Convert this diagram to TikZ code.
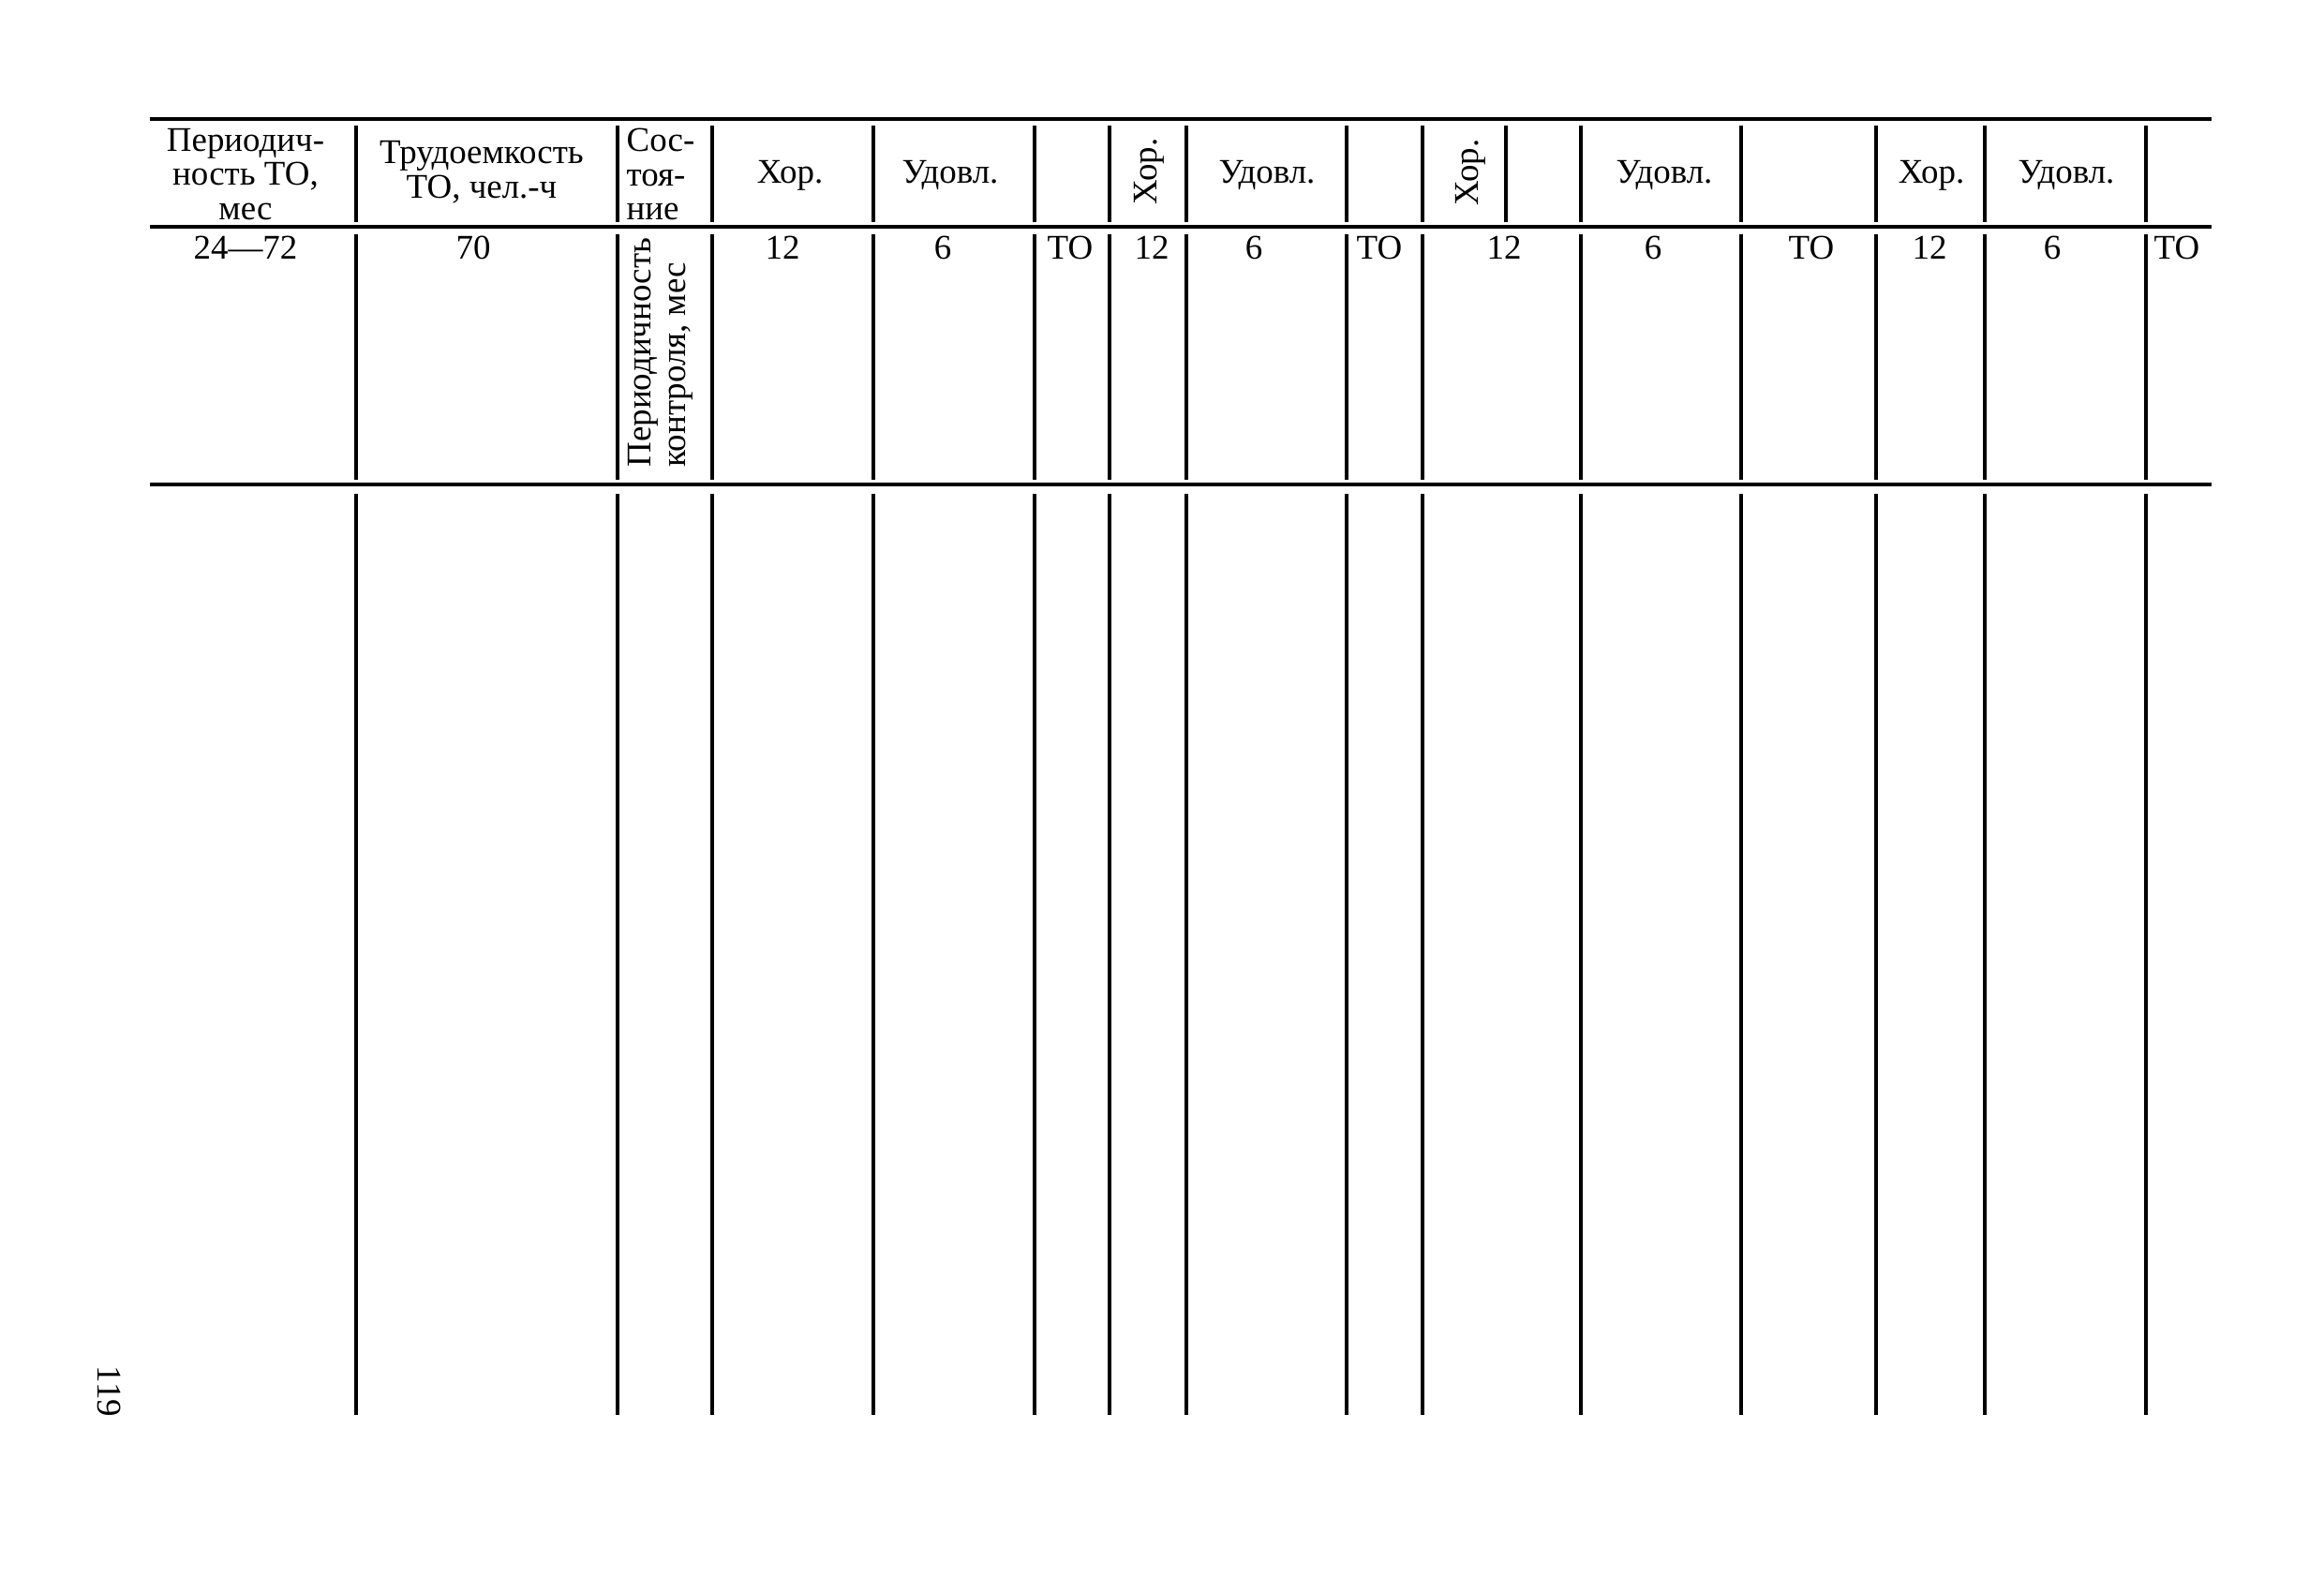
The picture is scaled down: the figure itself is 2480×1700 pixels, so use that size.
\documentclass[tikz,border=0pt]{standalone}
\usepackage{fontspec}
\setmainfont{Liberation Serif}
\begin{document}
\begin{tikzpicture}[x=0.01cm,y=-0.01cm,
  rule/.style={line width=1.1pt},
  vline/.style={line width=0.9pt},
  hdr/.style={font=\fontsize{10.5}{10.4}\selectfont, inner sep=0pt, align=center},
  cell/.style={font=\fontsize{10.5}{10.4}\selectfont, inner sep=0pt, anchor=base},
  vtxt/.style={hdr, rotate=90}]
\useasboundingbox (0,0) rectangle (2480,1700);
% horizontal rules
\draw[rule] (160,127) -- (2360,127);
\draw[rule] (160,242) -- (2360,242);
\draw[rule] (160,517) -- (2360,517);
% header verticals
\foreach \x in {380,659,760,932,1104,1184,1266,1437,1518,1607,1687,1858,2002,2118,2290}
  \draw[vline] (\x,134) -- (\x,237);
% row and body verticals
\foreach \x in {380,659,760,932,1104,1184,1266,1437,1518,1687,1858,2002,2118,2290}{
  \draw[vline] (\x,250) -- (\x,512);
  \draw[vline] (\x,527) -- (\x,1510);
}
% header texts
\node[hdr] (h0) at (262,186) {Периодич-\\ность ТО,\\мес};
\node[hdr] (h1) at (514,184) {Трудоемкость\\ТО, чел.-ч};
\node[hdr, align=left, anchor=west] (h2) at (668,186) {Сос-\\тоя-\\ние};
\node[cell] (h3) at (843,196) {Хор.};
\node[cell] (h4) at (1014,196) {Удовл.};
\node[vtxt] (h6) at (1226,183) {Хор.};
\node[cell] (h7) at (1352,196) {Удовл.};
\node[vtxt] (h9) at (1569,184) {Хор.};
\node[cell] (h10) at (1776,196) {Удовл.};
\node[cell] (h12) at (2061,196) {Хор.};
\node[cell] (h13) at (2205,196) {Удовл.};
% second row
\node[cell] (r0) at (262,277) {24—72};
\node[cell] (r1) at (505,277) {70};
\node[hdr, rotate=90, align=left, anchor=north west] (r2) at (670,499) {Периодичность\\контроля, мес};
\node[cell] (r3) at (835,277) {12};
\node[cell] (r4) at (1006,277) {6};
\node[cell] (r5) at (1142,277) {ТО};
\node[cell] (r6) at (1229,277) {12};
\node[cell] (r7) at (1338,277) {6};
\node[cell] (r8) at (1472,277) {ТО};
\node[cell] (r9) at (1605,277) {12};
\node[cell] (r10) at (1764,277) {6};
\node[cell] (r11) at (1933,277) {ТО};
\node[cell] (r12) at (2059,277) {12};
\node[cell] (r13) at (2190,277) {6};
\node[cell] (r14) at (2323,277) {ТО};
% page number
\node[hdr, rotate=-90] (pg) at (117,1485) {119};
\end{tikzpicture}
\end{document}
